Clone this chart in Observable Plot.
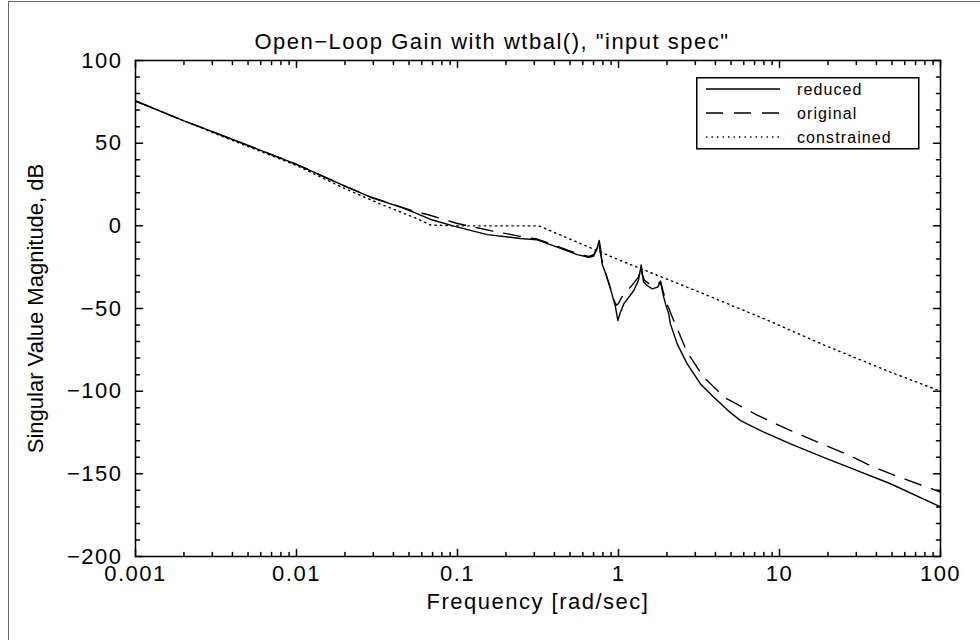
<!DOCTYPE html>
<html>
<head>
<meta charset="utf-8">
<script src="https://cdn.jsdelivr.net/npm/d3@7"></script>
<script src="https://cdn.jsdelivr.net/npm/@observablehq/plot@0.6"></script>
<style>
  html, body { margin: 0; padding: 0; background: white; }
  #wrap { position: relative; width: 980px; height: 640px; overflow: hidden; background: white; }
  #border { position: absolute; left: 8px; top: 1px; width: 980px; height: 660px; border-left: 1px solid #6a6a6a; border-top: 1px solid #6a6a6a; box-sizing: border-box; }
  #chart { position: absolute; left: 0; top: 0; }
  #legend { position: absolute; left: 696px; top: 77px; }
</style>
</head>
<body>
<div id="wrap">
  <div id="border"></div>
  <div id="chart"></div>
  <div id="legend"></div>
</div>
<script>
// ---- data ----
const seriesNames = ["reduced", "original", "constrained"];

const freqReduced = [0.001, 0.002, 0.003, 0.005, 0.01, 0.02, 0.0288, 0.0443, 0.0536, 0.07, 0.0949, 0.153, 0.246, 0.313, 0.416, 0.554, 0.654, 0.70, 0.735, 0.759, 0.775, 0.79, 0.84, 0.892, 0.958, 0.991, 1.02, 1.079, 1.245, 1.33, 1.365, 1.383, 1.40, 1.43, 1.507, 1.62, 1.75, 1.823, 1.91, 1.96, 2.05, 2.10, 2.315, 2.67, 3.23, 3.91, 4.96, 5.73, 7.99, 11.7, 18.8, 30.4, 48.9, 100];
const dbReduced = [75.5, 63.5, 57, 48.6, 37.2, 24, 17.3, 11.3, 8.2, 3.5, -0.2, -5.3, -7.7, -8.5, -12.9, -17.4, -19, -18.4, -14, -8.9, -14, -23, -30, -38, -49.2, -57.3, -53.2, -47.2, -39.1, -33, -27, -23.6, -28, -34, -36.1, -38.1, -37.1, -34.1, -43.2, -47.2, -53.2, -59.3, -71.4, -83.5, -95.6, -103.7, -113, -117.8, -124.8, -131.9, -140, -148, -156, -170];

const freqOriginal = [0.001, 0.002, 0.003, 0.005, 0.01, 0.02, 0.0288, 0.0443, 0.055, 0.066, 0.078, 0.1, 0.13, 0.17, 0.25, 0.313, 0.416, 0.554, 0.654, 0.70, 0.735, 0.755, 0.77, 0.79, 0.84, 0.892, 0.93, 0.97, 1.0, 1.05, 1.2, 1.33, 1.37, 1.383, 1.40, 1.45, 1.55, 1.65, 1.75, 1.823, 1.91, 2.0, 2.16, 2.67, 3.38, 4.6, 7.27, 11.1, 16.4, 26, 38.5, 59.2, 100];
const dbOriginal = [75.5, 63.5, 57, 48.6, 37.2, 24, 17.5, 11.5, 8.5, 6.7, 4.5, 1.4, -1, -3.4, -6.5, -8, -12.3, -16.8, -18.5, -17.5, -13.5, -9.5, -16, -21, -30, -38, -44, -48, -47, -43, -36.5, -31, -26, -24.5, -29, -33, -35, -36, -35.5, -33.5, -41, -47, -55.3, -76.4, -91.6, -104, -114.5, -122.8, -129.9, -138, -146, -153, -161];

const freqConstrained = [0.001, 0.003, 0.01, 0.02, 0.033, 0.054, 0.068, 0.1, 0.32, 1, 3.07, 8.39, 18.8, 48.9, 100];
const dbConstrained = [75.5, 56.5, 36.5, 22.5, 13.3, 5, 0.5, 0, 0, -20.5, -39.5, -57, -72, -88.5, -100];

const xTicks = [0.001, 0.01, 0.1, 1, 10, 100];
const xTickLabels = ["0.001", "0.01", "0.1", "1", "10", "100"];
const yTicks = [-200, -150, -100, -50, 0, 50, 100];
const yTickLabels = ["\u2212200", "\u2212150", "\u2212100", "\u221250", "0", "50", "100"];

const titleText = "Open\u2212Loop Gain with wtbal(), \"input spec\"";
const xLabel = "Frequency [rad/sec]";
const yLabel = "Singular Value Magnitude, dB";

// minor tick positions (2..9 per decade) and every 10 dB
const xMinor = [];
for (let i = 0; i < xTicks.length - 1; i++) for (let k = 2; k <= 9; k++) xMinor.push(xTicks[i] * k);
const yMinor = d3.range(-200, 101, 10).filter(v => v % 50 !== 0);

const toRows = (fs, vs, s) => fs.map((f, i) => ({f, db: vs[i], s}));
const reduced = toRows(freqReduced, dbReduced, seriesNames[0]);
const original = toRows(freqOriginal, dbOriginal, seriesNames[1]);
const constrained = toRows(freqConstrained, dbConstrained, seriesNames[2]);

const styles = {
  reduced: {dash: null},
  original: {dash: "17,11"},
  constrained: {dash: "1.4,4.1"}
};

const font = "'Liberation Sans', Arial, Helvetica, sans-serif";

const W = 980, H = 640, ML = 135, MR = 40, MT = 60, MB = 84;
const FW = W - ML - MR, FH = H - MT - MB;
const xDomain = [0.001, 100], yDomain = [-200, 100];

// inward tick marks as short line segments; lengths expressed through the scales (7 px / 4 px)
const yPerPx = (yDomain[1] - yDomain[0]) / FH;
const xPerPx = Math.log10(xDomain[1] / xDomain[0]) / FW;
const tickRows = [];
for (const [ticks, len] of [[xTicks, 7], [xMinor, 4]]) {
  for (const t of ticks) {
    tickRows.push({k: `b${t}`, x: t, y: yDomain[0]}, {k: `b${t}`, x: t, y: yDomain[0] + len * yPerPx});
    tickRows.push({k: `t${t}`, x: t, y: yDomain[1]}, {k: `t${t}`, x: t, y: yDomain[1] - len * yPerPx});
  }
}
for (const [ticks, len] of [[yTicks, 7], [yMinor, 4]]) {
  for (const t of ticks) {
    tickRows.push({k: `l${t}`, x: xDomain[0], y: t}, {k: `l${t}`, x: xDomain[0] * Math.pow(10, len * xPerPx), y: t});
    tickRows.push({k: `r${t}`, x: xDomain[1], y: t}, {k: `r${t}`, x: xDomain[1] / Math.pow(10, len * xPerPx), y: t});
  }
}

const chart = Plot.plot({
  width: W,
  height: H,
  marginLeft: ML,
  marginRight: MR,
  marginTop: MT,
  marginBottom: MB,
  style: {fontFamily: font, fontSize: "22px", color: "black", background: "transparent", letterSpacing: "1.5px"},
  x: {type: "log", domain: xDomain},
  y: {domain: yDomain},
  marks: [
    Plot.line(reduced, {x: "f", y: "db", stroke: "black", strokeWidth: 1.4}),
    Plot.line(original, {x: "f", y: "db", stroke: "black", strokeWidth: 1.4, strokeDasharray: styles.original.dash}),
    Plot.line(constrained, {x: "f", y: "db", stroke: "black", strokeWidth: 1.4, strokeDasharray: styles.constrained.dash}),
    Plot.line(tickRows, {x: "x", y: "y", z: "k", stroke: "black", strokeWidth: 1.5}),
    Plot.axisX({anchor: "bottom", ticks: xTicks, tickSize: 0, tickPadding: 9, tickFormat: d => xTickLabels[xTicks.indexOf(d)], label: null, fontSize: 22}),
    Plot.axisY({anchor: "left", ticks: yTicks, tickSize: 0, tickPadding: 13, tickFormat: d => yTickLabels[yTicks.indexOf(d)], label: null, fontSize: 22}),
    Plot.frame({stroke: "black", strokeWidth: 1.5}),
    Plot.text([titleText], {frameAnchor: "top", dx: -46, dy: -27, fontSize: 22}),
    Plot.text([xLabel], {frameAnchor: "bottom", dy: 52, fontSize: 22}),
    Plot.text([yLabel], {frameAnchor: "left", textAnchor: "middle", dx: -100, rotate: -90, fontSize: 22})
  ]
});
d3.select(chart).selectAll("text").filter(function() { return this.textContent === yLabel; }).style("letter-spacing", "0px");
document.getElementById("chart").appendChild(chart);

// ---- legend ----
const lg = d3.select("#legend").append("svg").attr("width", 224).attr("height", 73);
lg.append("rect").attr("x", 0.75).attr("y", 0.75).attr("width", 222).attr("height", 71)
  .attr("fill", "white").attr("stroke", "black").attr("stroke-width", 1.5);
seriesNames.forEach((name, i) => {
  const cy = 12 + i * 24;
  lg.append("line").attr("x1", 10).attr("x2", 84).attr("y1", cy).attr("y2", cy)
    .attr("stroke", "black").attr("stroke-width", 1.4)
    .attr("stroke-dasharray", styles[name].dash);
  lg.append("text").attr("x", 101).attr("y", cy).attr("dy", "0.35em")
    .attr("font-family", font).attr("font-size", 16).style("letter-spacing", "1.1px")
    .attr("fill", "black").text(name);
});
</script>
</body>
</html>
